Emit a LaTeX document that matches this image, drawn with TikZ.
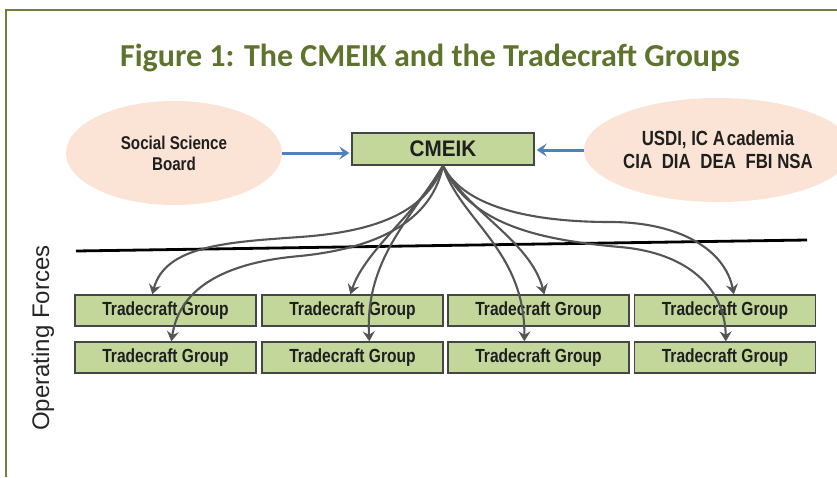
\documentclass[tikz,border=0pt]{standalone}
\usepackage{fontspec}
\setmainfont{Liberation Sans}
\newfontfamily\titlefont{Carlito}
\newfontfamily\nb[FakeStretch=0.82]{Liberation Sans}
\newfontfamily\nbw[FakeStretch=0.92]{Liberation Sans}
\usetikzlibrary{shapes.geometric,arrows.meta,calc}
\definecolor{frameol}{RGB}{110,128,64}
\definecolor{titleol}{RGB}{94,116,44}
\definecolor{peach}{RGB}{251,228,214}
\definecolor{boxgreen}{RGB}{196,215,155}
\definecolor{boxedge}{RGB}{70,70,70}
\definecolor{bluearr}{RGB}{79,129,189}
\definecolor{curvegray}{RGB}{85,85,85}
\tikzset{
  oval/.style={ellipse, fill=peach, draw=none, minimum width=216pt, minimum height=104pt, inner sep=0pt, align=center, text=black!88},
  gbox/.style={rectangle, fill=boxgreen, draw=boxedge, line width=1.3pt, inner sep=0pt, text=black!88},
  tbox/.style={gbox, minimum width=181pt, minimum height=31pt, font=\nb\bfseries\fontsize{19}{21}\selectfont},
  bluearrow/.style={draw=bluearr, line width=3pt, -{Stealth[length=10pt,width=13pt,inset=4pt]}, shorten >=2pt},
  feed/.style={draw=curvegray, line width=2.1pt, -{Stealth[length=10pt,width=12pt,inset=3.5pt]}}
}
\begin{document}
\begin{tikzpicture}[x=1pt,y=-1pt]
\useasboundingbox (0,0) rectangle (837,477);
% frame
\coordinate (fbl) at (6,477);
\coordinate (ftl) at (6,10);
\coordinate (ftr) at (837,10);
\draw[frameol, line width=1.5pt] (fbl) -- (ftl) -- (ftr);
% title
\node[text=titleol, font=\titlefont\bfseries\fontsize{32}{36}\selectfont] (title) at (430,58) {Figure 1: The CMEIK and the Tradecraft Groups};
% ovals
\node[oval, font=\nb\bfseries\fontsize{18.5}{21}\selectfont] (ssb) at (174,153) {Social Science\\Board};
\node[oval, minimum width=218pt, font=\nb\bfseries\fontsize{20.5}{23}\selectfont] (usdi) at (718,150) {USDI, IC A\hspace{2pt}cademia\\CIA\hspace{5pt} DIA\hspace{5pt} DEA\hspace{5pt} FBI NSA};
% CMEIK
\node[gbox, minimum width=182pt, minimum height=32pt, font=\nbw\bfseries\fontsize{22.5}{26}\selectfont] (cmeik) at (443,149) {CMEIK};
% blue arrows
\draw[bluearrow] (ssb.east) -- (ssb.east -| cmeik.west);
\draw[bluearrow] (usdi.west) -- (usdi.west -| cmeik.east);
% boundary line
\coordinate (lineL) at (76,251);
\coordinate (lineR) at (807,240);
\draw[black, line width=2.8pt] (lineL) -- (lineR);
% operating forces
\node[rotate=90, font=\fontsize{24}{28}\selectfont, text=black!85] (opf) at (43,338) {Operating Forces};
% tradecraft groups
\node[tbox] (t11) at (165.5,310.5) {Tradecraft Group};
\node[tbox] (t12) at (352.5,310.5) {Tradecraft Group};
\node[tbox] (t13) at (538.5,310.5) {Tradecraft Group};
\node[tbox] (t14) at (725,310.5) {Tradecraft Group};
\node[tbox] (t21) at (165.5,357.5) {Tradecraft Group};
\node[tbox] (t22) at (352.5,357.5) {Tradecraft Group};
\node[tbox] (t23) at (538.5,357.5) {Tradecraft Group};
\node[tbox] (t24) at (725,357.5) {Tradecraft Group};
% curves
\coordinate (src) at (cmeik.south);
\draw[feed] (src) .. controls (425,215) and (370,232) .. (300,237) .. controls (230,242) and (165,245) .. ([xshift=78pt]t11.north west);
\draw[feed] (src) .. controls (430,230) and (360,250) .. (300,256) .. controls (230,262) and (180,285) .. ([xshift=97pt]t21.north west);
\draw[feed] (src) .. controls (420,210) and (365,250) .. ([xshift=89pt]t12.north west);
\draw[feed] (src) .. controls (410,220) and (365,260) .. ([xshift=108pt]t22.north west);
\draw[feed] (src) .. controls (465,210) and (530,240) .. ([xshift=97pt]t13.north west);
\draw[feed] (src) .. controls (460,220) and (525,250) .. ([xshift=77pt]t23.north west);
\draw[feed] (src) .. controls (465,210) and (540,222) .. (610,222) .. controls (680,222) and (725,250) .. ([xshift=100pt]t14.north west);
\draw[feed] (src) .. controls (470,225) and (540,240) .. (620,247) .. controls (690,253) and (725,290) .. ([xshift=92pt]t24.north west);
\end{tikzpicture}
\end{document}
